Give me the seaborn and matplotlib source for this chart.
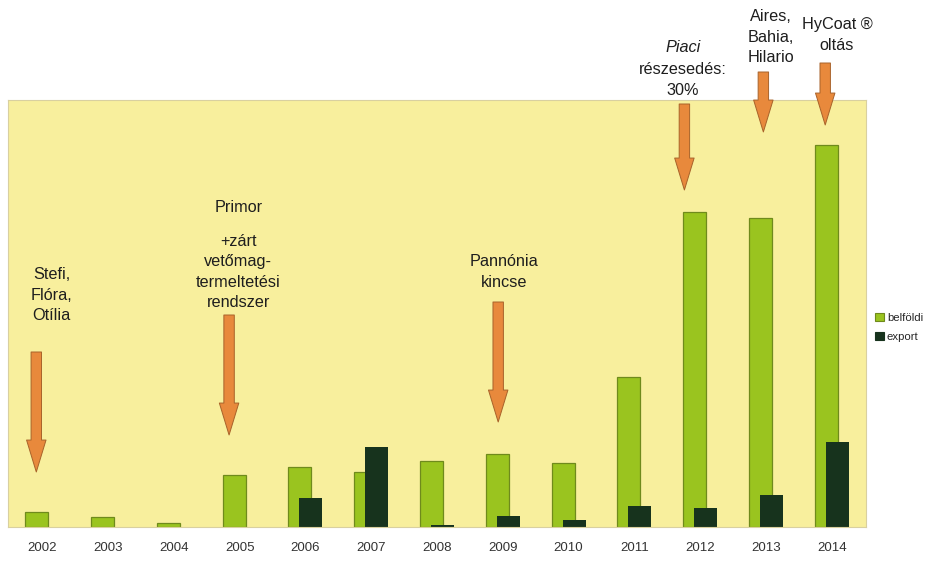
import matplotlib
matplotlib.use("Agg")
import matplotlib.pyplot as plt
import seaborn as sns
import pandas as pd
from matplotlib.patches import Patch

# Seed sales by year: domestic (belföldi) and export
years = ["2002", "2003", "2004", "2005", "2006", "2007", "2008",
         "2009", "2010", "2011", "2012", "2013", "2014"]
belfoldi = [15, 10, 4, 52, 60, 55, 66, 73, 64, 150, 315, 309, 382]
export = [0, 0, 0, 0, 29, 80, 2, 11, 7, 21, 19, 32, 85]
series_labels = ["belföldi", "export"]

# Milestones: (arrow x, text x, text, text y, arrow top, arrow tip)
milestones = [
    (-0.09, 0.14, "Stefi,\nFlóra,\nOtília", 232, 175, 55),
    (2.84, 2.98, "+zárt\nvetőmag-\ntermeltetési\nrendszer", 255, 212, 92),
    (6.93, 7.02, "Pannónia\nkincse", 255, 225, 105),
    (9.76, 9.74, "részesedés:\n30%", 447, 423, 337),
    (10.96, 11.08, "Aires,\nBahia,\nHilario", 490, 455, 395),
    (11.90, 12.08, "HyCoat ®\noltás", 492, 464, 402),
]

YELLOW = "#F8EF9D"
GREEN = "#9AC41F"
GREEN_EDGE = "#6F8A1C"
DARK = "#17331D"
ORANGE = "#E8893C"
ORANGE_EDGE = "#A8622A"
TEXT = "#1E1E1E"
FS = 11.7

sns.set_theme(style="white")
plt.rcParams["font.family"] = ["Liberation Sans", "DejaVu Sans"]

fig = plt.figure(figsize=(9.28, 5.61), dpi=100)
fig.patch.set_facecolor("white")
ax = fig.add_axes([8 / 928, 34 / 561, 858 / 928, 427 / 561])
ax.set_facecolor(YELLOW)

df = pd.DataFrame({"ev": years, "belföldi": belfoldi, "export": export})

BAR_W = 0.35
SHIFT = 0.084

sns.barplot(data=df, x="ev", y="belföldi", order=years, color=GREEN,
            saturation=1, width=BAR_W, edgecolor=GREEN_EDGE, linewidth=0.9,
            errorbar=None, ax=ax)
n_first = len(ax.patches)
for p in ax.patches:
    p.set_x(p.get_x() - SHIFT)

sns.barplot(data=df, x="ev", y="export", order=years, color=DARK,
            saturation=1, width=BAR_W, linewidth=0, errorbar=None, ax=ax)
for p in ax.patches[n_first:]:
    p.set_x(p.get_x() + SHIFT)

ax.set_xlim(-0.52, 12.52)
ax.set_ylim(0, 427)
ax.set_xlabel("")
ax.set_ylabel("")
ax.set_yticks([])
ax.tick_params(axis="x", length=0, pad=11, labelsize=9.5, labelcolor="#333333")
for s in ax.spines.values():
    s.set_color("#D9D0A0")
    s.set_linewidth(0.8)

# Milestone arrows and captions
arrow_style = "simple,head_length=2.3,head_width=1.4,tail_width=0.75"
for ax_x, tx_x, txt, ty, y_top, y_tip in milestones:
    ax.annotate("", xy=(ax_x, y_tip), xytext=(ax_x, y_top),
                annotation_clip=False,
                arrowprops=dict(arrowstyle=arrow_style, mutation_scale=10,
                                fc=ORANGE, ec=ORANGE_EDGE, lw=0.7,
                                shrinkA=0, shrinkB=0))
    ax.text(tx_x, ty, txt, ha="center", va="center", fontsize=FS,
            color=TEXT, linespacing=1.45, clip_on=False)

ax.text(2.98, 319, "Primor", ha="center", va="center", fontsize=FS,
        color=TEXT, clip_on=False)
ax.text(9.74, 479, "Piaci", ha="center", va="center", fontsize=FS,
        color=TEXT, style="italic", clip_on=False)

handles = [Patch(facecolor=GREEN, edgecolor=GREEN_EDGE, linewidth=0.8),
           Patch(facecolor=DARK, edgecolor=DARK, linewidth=0.8)]
fig.legend(handles, series_labels, loc="upper left",
           bbox_to_anchor=(875 / 928, 1 - 313 / 561), frameon=False,
           fontsize=8.2, handlelength=0.75, handleheight=0.75,
           handletextpad=0.3, labelspacing=0.75, borderpad=0,
           borderaxespad=0)

fig.savefig("out.png", dpi=100, facecolor="white")
